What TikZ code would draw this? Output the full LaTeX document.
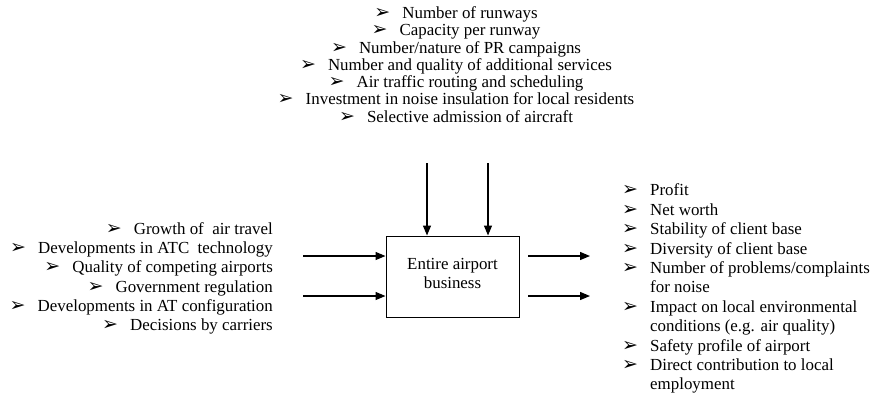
\documentclass[tikz,border=0pt]{standalone}
\usepackage{fontspec}
\setmainfont{Liberation Serif}
\newfontfamily\dingfont{DejaVu Sans}
\usetikzlibrary{arrows.meta}

\newcommand{\blt}{\makebox[28pt][l]{\dingfont\fontsize{19}{19}\selectfont ➢}}

\begin{document}
\begin{tikzpicture}[x=1pt, y=1pt, >=Stealth]

    \tikzstyle{business} = [rectangle, draw=black, line width=1pt, minimum width=133pt, minimum height=81pt, align=center, font=\fontsize{16.9}{19.4}\selectfont]
    \tikzstyle{factors} = [inner sep=0pt, font=\fontsize{16.9}{19.4}\selectfont]
    \tikzstyle{arrow} = [line width=1.3pt, -{Triangle[length=10pt, width=8pt]}]

    \useasboundingbox (0,0) rectangle (874,-397);

    % Nodes
    \node (biz) [business] at (452.5,-276.5) {Entire airport\\business\\[-13pt]};
    \node (controls) [factors, align=center, font=\fontsize{16.9}{17.3}\selectfont] at (456,-64.5) {%
        \blt Number of runways\\
        \blt Capacity per runway\\
        \blt Number/nature of PR campaigns\\
        \blt Number and quality of additional services\\
        \blt Air traffic routing and scheduling\\
        \blt Investment in noise insulation for local residents\\
        \blt Selective admission of aircraft};
    \node (inputs) [factors, align=right, anchor=east, font=\fontsize{16.9}{19.3}\selectfont] at (273,-278.5) {%
        \blt Growth of\ \ air travel\\
        \blt Developments in ATC\ \ technology\\
        \blt Quality of competing airports\\
        \blt Government regulation\\
        \blt Developments in AT configuration\\
        \blt Decisions by carriers};
    \node (outputs) [factors, anchor=west] at (622,-289) {%
        \begin{tabular}{@{}l@{}l@{}}
        \blt & Profit\\
        \blt & Net worth\\
        \blt & Stability of client base\\
        \blt & Diversity of client base\\
        \blt & Number of problems/complaints\\
             & for noise\\
        \blt & Impact on local environmental\\
             & conditions (e.g. air quality)\\
        \blt & Safety profile of airport\\
        \blt & Direct contribution to local\\
             & employment
        \end{tabular}};

    % Free ends
    \coordinate (top1) at (427,-163);
    \coordinate (top2) at (488,-163);
    \coordinate (in1) at (303,-256);
    \coordinate (in2) at (303,-296);
    \coordinate (out1s) at (528,-256);
    \coordinate (out1e) at (590,-256);
    \coordinate (out2s) at (528,-296);
    \coordinate (out2e) at (590,-296);

    % Arrows
    \draw [arrow] (top1) -- (top1 |- biz.north);
    \draw [arrow] (top2) -- (top2 |- biz.north);
    \draw [arrow] (in1) -- (in1 -| biz.west);
    \draw [arrow] (in2) -- (in2 -| biz.west);
    \draw [arrow] (out1s) -- (out1e);
    \draw [arrow] (out2s) -- (out2e);

\end{tikzpicture}
\end{document}
